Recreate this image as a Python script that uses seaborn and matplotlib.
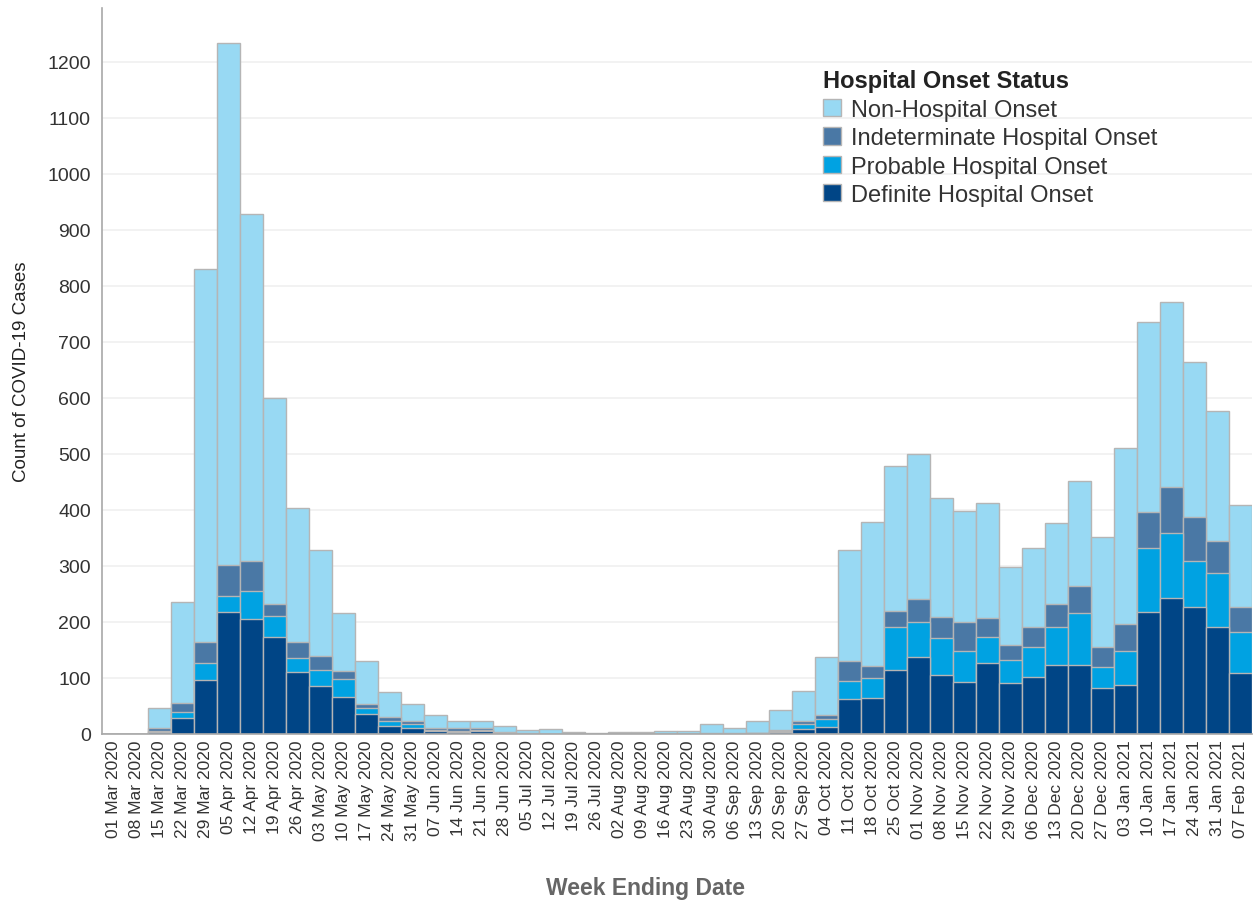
import pandas as pd
import seaborn as sns
import matplotlib.pyplot as plt
from matplotlib.patches import Patch

# Week ending dates (x axis)
weeks = [
    "01 Mar 2020", "08 Mar 2020", "15 Mar 2020", "22 Mar 2020", "29 Mar 2020",
    "05 Apr 2020", "12 Apr 2020", "19 Apr 2020", "26 Apr 2020",
    "03 May 2020", "10 May 2020", "17 May 2020", "24 May 2020", "31 May 2020",
    "07 Jun 2020", "14 Jun 2020", "21 Jun 2020", "28 Jun 2020",
    "05 Jul 2020", "12 Jul 2020", "19 Jul 2020", "26 Jul 2020",
    "02 Aug 2020", "09 Aug 2020", "16 Aug 2020", "23 Aug 2020", "30 Aug 2020",
    "06 Sep 2020", "13 Sep 2020", "20 Sep 2020", "27 Sep 2020",
    "04 Oct 2020", "11 Oct 2020", "18 Oct 2020", "25 Oct 2020",
    "01 Nov 2020", "08 Nov 2020", "15 Nov 2020", "22 Nov 2020", "29 Nov 2020",
    "06 Dec 2020", "13 Dec 2020", "20 Dec 2020", "27 Dec 2020",
    "03 Jan 2021", "10 Jan 2021", "17 Jan 2021", "24 Jan 2021", "31 Jan 2021",
    "07 Feb 2021",
]

# Counts per onset status
definite = [0, 0, 3, 28, 97, 218, 205, 173, 111, 86, 66, 36, 15, 10, 5, 3, 6, 1,
            0, 0, 0, 0, 0, 0, 0, 0, 0, 0, 1, 4, 9, 12, 62, 64, 114, 138, 105, 93,
            127, 91, 102, 123, 123, 82, 88, 218, 243, 227, 191, 109]
probable = [0, 0, 3, 11, 30, 28, 50, 38, 25, 28, 32, 10, 8, 8, 2, 3, 1, 0,
            0, 0, 0, 0, 0, 0, 0, 0, 0, 0, 0, 1, 8, 15, 33, 36, 77, 62, 66, 55,
            46, 41, 53, 68, 93, 38, 60, 114, 116, 82, 97, 73]
indeterminate = [0, 0, 5, 16, 37, 56, 54, 21, 28, 25, 14, 8, 7, 5, 4, 4, 3, 3,
                 1, 0, 1, 0, 1, 1, 0, 0, 1, 1, 1, 2, 6, 7, 35, 21, 28, 41, 38, 52,
                 34, 27, 36, 41, 48, 35, 48, 64, 82, 79, 57, 45]
non_hospital = [0, 0, 35, 180, 666, 932, 620, 368, 240, 190, 104, 76, 45, 31, 23, 13, 13, 11,
                6, 9, 2, 1, 2, 2, 5, 5, 17, 10, 21, 35, 54, 103, 199, 258, 259, 259, 212, 198,
                205, 139, 141, 145, 188, 197, 315, 340, 330, 276, 232, 182]

statuses = ["Non-Hospital Onset", "Indeterminate Hospital Onset",
            "Probable Hospital Onset", "Definite Hospital Onset"]
colors = ["#98d9f3", "#4a78a5", "#00a2e2", "#004586"]


def main():
    plt.rcParams["font.family"] = ["Liberation Sans", "DejaVu Sans"]

    df = pd.DataFrame({
        "week": weeks,
        "Definite Hospital Onset": definite,
        "Probable Hospital Onset": probable,
        "Indeterminate Hospital Onset": indeterminate,
        "Non-Hospital Onset": non_hospital,
    })

    # Cumulative heights so the bars can be layered (tallest first)
    stack_order = ["Definite Hospital Onset", "Probable Hospital Onset",
                   "Indeterminate Hospital Onset", "Non-Hospital Onset"]
    cum = df[stack_order].cumsum(axis=1)

    fig = plt.figure(figsize=(12.54, 9.04), dpi=100)
    ax = fig.add_axes([102 / 1254, 1 - 735 / 904, 1150 / 1254, 726 / 904])

    color_map = dict(zip(statuses, colors))
    for status in reversed(stack_order):
        sns.barplot(
            x=df["week"], y=cum[status], color=color_map[status],
            width=1.0, saturation=1, errorbar=None,
            edgecolor="#b5b5b5", linewidth=1.0, ax=ax, zorder=2,
        )

    ax.set_xlim(-0.5, len(weeks) - 0.5)
    ax.set_ylim(0, 1296)
    ax.set_yticks(range(0, 1300, 100))
    ax.grid(axis="y", color="#f0f0f0", linewidth=1.2, zorder=0)
    ax.set_axisbelow(True)

    for side in ["top", "right"]:
        ax.spines[side].set_visible(False)
    for side in ["left", "bottom"]:
        ax.spines[side].set_color("#a8a8a8")
        ax.spines[side].set_linewidth(1.2)

    ax.tick_params(axis="both", length=0, colors="#333333")
    ax.tick_params(axis="y", labelsize=14, pad=8)
    ax.tick_params(axis="x", labelsize=12.5, pad=4)
    plt.setp(ax.get_xticklabels(), rotation=90)

    ax.set_xlabel("Week Ending Date", fontsize=16.5, fontweight="bold", color="#666666")
    ax.xaxis.set_label_coords((646 - 102) / 1150, -0.196)
    ax.set_ylabel("Count of COVID-19 Cases", fontsize=13.5, color="#222222")
    ax.yaxis.set_label_coords(-0.063, 0.5)

    # Legend in the same order as the reference
    handles = [Patch(facecolor=c, edgecolor="#b5b5b5") for c in colors]
    leg = ax.legend(
        handles, statuses, title="Hospital Onset Status",
        loc="upper left", bbox_to_anchor=((814 - 102) / 1150, (735 - 61) / 726),
        frameon=False, fontsize=17, title_fontsize=17,
        handlelength=0.75, handleheight=0.75, handletextpad=0.4,
        labelspacing=0.27, borderaxespad=0, alignment="left",
    )
    leg.get_title().set_fontweight("bold")
    leg.get_title().set_color("#222222")
    for t in leg.get_texts():
        t.set_color("#333333")

    fig.savefig("out.png", dpi=100)
    plt.close(fig)


if __name__ == "__main__":
    main()
